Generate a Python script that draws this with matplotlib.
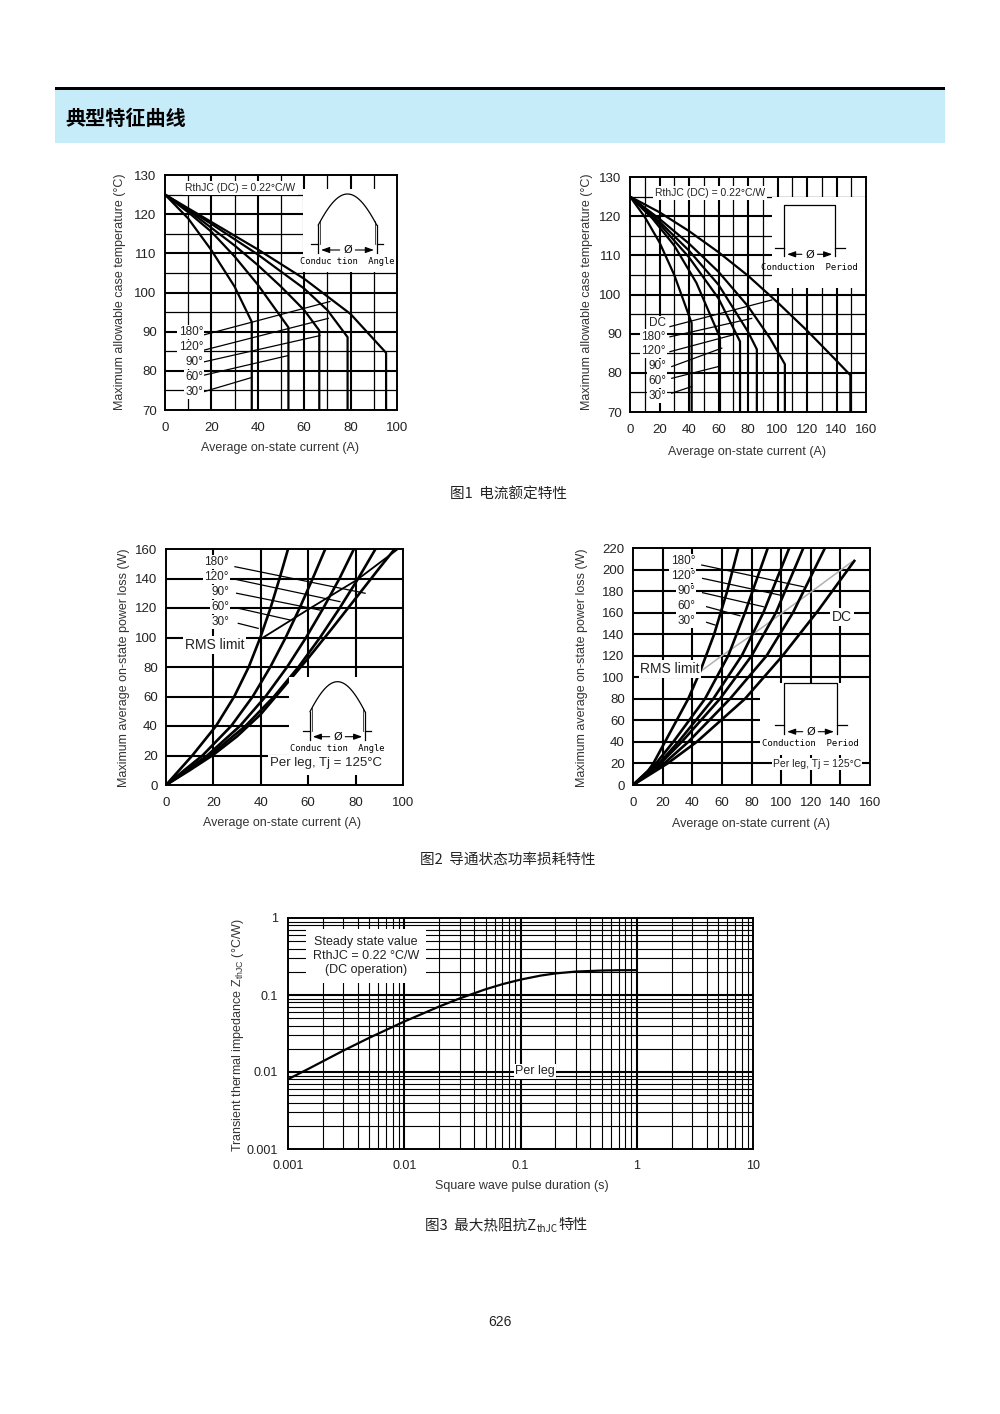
import numpy as np
import matplotlib
matplotlib.use('Agg')
import matplotlib.pyplot as plt
from matplotlib.patches import Rectangle

plt.rcParams['font.family'] = ['Liberation Sans', 'DejaVu Sans']
plt.rcParams['mathtext.fontset'] = 'custom'
plt.rcParams['mathtext.rm'] = 'Liberation Sans'
plt.rcParams['mathtext.default'] = 'regular'
CJK = ['Noto Sans CJK SC', 'DejaVu Sans']
MONO = ['DejaVu Sans Mono']

# ---------------- data ----------------
# Fig 1 (left): max case temperature vs average current, sine conduction angle
f1a_labels = ['30°', '60°', '90°', '120°', '180°']
f1a_current = [
    [0, 10, 20, 30, 37.4],
    [0, 10, 20, 30, 40, 53.2],
    [0, 10, 20, 30, 40, 50, 60, 66.5],
    [0, 20, 40, 60, 70, 78.7],
    [0, 20, 40, 60, 80, 95.3],
]
f1a_temp = [
    [125, 118.9, 110.8, 101.5, 92.5],
    [125, 120.5, 115.5, 109.2, 102.0, 91.1],
    [125, 121.0, 116.5, 112.0, 107.0, 101.5, 95.5, 90.3],
    [125, 117.5, 109.7, 101.0, 95.5, 88.6],
    [125, 118.0, 111.0, 103.5, 94.5, 84.6],
]
f1a_label_y = [74.6, 78.4, 82.3, 86.1, 89.9]
f1a_lead_x0 = [16.9, 16.9, 16.9, 16.9, 16.9]
f1a_lead_y0 = [74.7, 78.9, 82.3, 85.3, 89.2]
f1a_lead_x1 = [37.4, 53.1, 66.8, 70.4, 71.1]
f1a_lead_y1 = [78.3, 83.9, 89.0, 93.4, 97.7]

# Fig 1 (right): rectangular conduction period
f1b_labels = ['30°', '60°', '90°', '120°', '180°', 'DC']
f1b_current = [
    [0, 10, 20, 30, 41.8],
    [0, 15, 30, 45, 61],
    [0, 20, 40, 60, 74.6],
    [0, 20, 40, 60, 80, 86],
    [0, 20, 40, 60, 80, 95, 105],
    [0, 20, 40, 60, 80, 100, 120, 140, 149.4],
]
f1b_temp = [
    [125, 119.8, 113.3, 105.0, 92.7],
    [125, 119.5, 112.5, 103.0, 89.0],
    [125, 118.0, 109.5, 99.0, 88.0],
    [125, 118.6, 111.2, 102.5, 90.5, 86.0],
    [125, 119.3, 113.0, 105.8, 97.0, 88.8, 82.2],
    [125, 121.0, 116.2, 110.8, 104.8, 98.0, 90.8, 83.1, 79.4],
]
f1b_label_y = [74.1, 77.9, 81.7, 85.6, 89.2, 92.7]
f1b_lead_x0 = [28.3, 28.3, 28.3, 27.1, 27.1, 27.1]
f1b_lead_y0 = [74.8, 78.6, 81.6, 85.4, 89.2, 91.8]
f1b_lead_x1 = [41.8, 59.9, 62.2, 70.0, 82.5, 96.1]
f1b_lead_y1 = [76.5, 81.6, 86.3, 89.7, 93.9, 98.6]

# Fig 2 (left): power loss vs average current, sine conduction angle
f2a_labels = ['30°', '60°', '90°', '120°', '180°']
f2a_current = [
    [0, 11.1, 21.1, 28.8, 34.9, 39.8, 44.1, 47.9, 51.5],
    [0, 15.4, 27.5, 36.6, 44.0, 50.5, 56.4, 61.9, 67.2],
    [0, 17.4, 31.2, 42.0, 51.1, 59.1, 66.4, 73.2, 79.3],
    [0, 18.5, 33.5, 45.6, 55.9, 65.0, 73.3, 81.1, 88.4],
    [0, 10, 20, 30, 40, 50, 60, 70, 80, 90, 96.5],
]
f2a_power = [
    [0, 20, 40, 60, 80, 100, 120, 140, 160],
    [0, 20, 40, 60, 80, 100, 120, 140, 160],
    [0, 20, 40, 60, 80, 100, 120, 140, 160],
    [0, 20, 40, 60, 80, 100, 120, 140, 160],
    [0, 10, 20.5, 33, 48, 67, 86, 106, 126.5, 147, 160],
]
f2a_rms_i = [39.3, 53.0, 60.8, 80.5, 97.3]
f2a_rms_p = [98.3, 112.0, 119.8, 139.0, 159.3]
f2a_label_y = [110.5, 120.7, 130.8, 141.0, 151.2]
f2a_lead_x0 = [30.5, 30.5, 29.8, 29.1, 29.1]
f2a_lead_y0 = [109.6, 119.8, 130.0, 139.5, 148.0]
f2a_lead_x1 = [38.9, 52.3, 65.0, 73.4, 84.0]
f2a_lead_y1 = [106.2, 111.9, 118.6, 124.3, 130.0]

# Fig 2 (right): rectangular conduction period
f2b_labels = ['30°', '60°', '90°', '120°', '180°', 'DC']
f2b_current = [
    [0, 10, 13.7, 21.6, 37.3, 45.2, 54.8, 63.6, 71.1],
    [0, 15.5, 27.2, 48.6, 64.3, 75.6, 91.0],
    [0, 17.5, 30.6, 54.2, 73.4, 88.0, 105.5],
    [0, 18.5, 32.9, 58.7, 80.1, 96.5, 115.0],
    [0, 21.0, 37.3, 65.5, 90.2, 108.0, 129.6],
    [0, 23.3, 43.0, 75.6, 101.0, 125.0, 149.4],
]
f2b_power = [
    [0, 12.7, 20, 40, 80, 105, 140, 180, 220],
    [0, 20, 40, 80, 120, 160, 220],
    [0, 20, 40, 80, 120, 160, 220],
    [0, 20, 40, 80, 120, 160, 220],
    [0, 20, 40, 80, 120, 160, 220],
    [0, 20, 40, 80, 120, 162, 208],
]
f2b_rms_i = [45.2, 60, 80, 100, 120, 147.6]
f2b_rms_p = [105, 120, 139, 159, 179, 207]
f2b_label_y = [152.2, 166.0, 180.0, 194.0, 207.9]
f2b_lead_x0 = [49.7, 49.7, 47.0, 47.0, 46.4]
f2b_lead_y0 = [151.0, 165.5, 178.5, 191.8, 204.2]
f2b_lead_x1 = [55.4, 72.2, 88.0, 99.2, 115.0]
f2b_lead_y1 = [148.5, 157.1, 165.5, 176.3, 184.0]

# Fig 3: transient thermal impedance
f3_time = [0.00104, 0.0015, 0.002, 0.003, 0.005, 0.007, 0.01, 0.015, 0.02, 0.03,
           0.05, 0.07, 0.1, 0.15, 0.2, 0.3, 0.5, 0.7, 1.0]
f3_zth = [0.0083, 0.0110, 0.0138, 0.0190, 0.0278, 0.0352, 0.0452, 0.0588, 0.0709, 0.0903,
          0.1186, 0.1383, 0.1584, 0.179, 0.1906, 0.2016, 0.2078, 0.2096, 0.2101]
f3_xticks = [0.001, 0.01, 0.1, 1, 10]
f3_xticklabels = ['0.001', '0.01', '0.1', '1', '10']
f3_yticks = [0.001, 0.01, 0.1, 1]
f3_yticklabels = ['0.001', '0.01', '0.1', '1']

# ---------------- figure ----------------
W, H = 1000, 1414
fig = plt.figure(figsize=(W / 100, H / 100), dpi=100)
fig.patch.set_facecolor('white')

TXT = '#222222'
WB = dict(boxstyle='square,pad=0.12', fc='white', ec='none')


def mkax(l, r, t, b):
    return fig.add_axes([l / W, 1 - b / H, (r - l) / W, (b - t) / H])


def style(ax, xt, yt, fs=9.5):
    ax.set_xticks(xt)
    ax.set_yticks(yt)
    ax.tick_params(length=0, labelsize=fs, labelcolor=TXT)
    ax.tick_params(axis='y', pad=6)
    ax.tick_params(axis='x', pad=8.5)
    for s in ax.spines.values():
        s.set_linewidth(1.4)
        s.set_color('black')
        s.set_zorder(6)


def lingrid(ax, xs, ys, xmaj, ymaj):
    for x in xs:
        ax.axvline(x, color='black', lw=1.5 if x % xmaj == 0 else 0.9, zorder=1)
    for y in ys:
        ax.axhline(y, color='black', lw=1.5 if y % ymaj == 0 else 0.9, zorder=1)


# ---- Chart 1a ----
ax1 = mkax(165, 397, 175, 410)
ax1.set_xlim(0, 100)
ax1.set_ylim(70, 130)
style(ax1, range(0, 101, 20), range(70, 131, 10))
lingrid(ax1, range(10, 100, 10), range(75, 130, 5), 20, 10)
ax1.add_patch(Rectangle((59.5, 105.2), 40.5, 21.3, fc='white', ec='none', zorder=2))
for I, T in zip(f1a_current, f1a_temp):
    ax1.plot(I + [I[-1]], T + [70], color='black', lw=1.6, zorder=3)
for lab, ly, x0, y0, x1, y1 in zip(f1a_labels, f1a_label_y, f1a_lead_x0, f1a_lead_y0, f1a_lead_x1, f1a_lead_y1):
    ax1.plot([x0, x1], [y0, y1], color='black', lw=0.9, zorder=3)
    ax1.text(16.4, ly, lab, ha='right', va='center', fontsize=8.5, color=TXT, bbox=WB, zorder=4)
ax1.text(32.5, 126.7, 'RthJC (DC) = 0.22°C/W', ha='center', va='center', fontsize=7.5,
         color=TXT, bbox=dict(boxstyle='square,pad=0.2', fc='white', ec='none'), zorder=4)

# ---- Chart 1b ----
ax2 = mkax(630, 866, 177, 412)
ax2.set_xlim(0, 160)
ax2.set_ylim(70, 130)
style(ax2, range(0, 161, 20), range(70, 131, 10))
lingrid(ax2, range(10, 160, 10), range(75, 130, 5), 20, 10)
ax2.add_patch(Rectangle((96, 101.6), 64, 23.4, fc='white', ec='none', zorder=2))
for I, T in zip(f1b_current, f1b_temp):
    ax2.plot(I + [I[-1]], T + [70], color='black', lw=1.6, zorder=3)
for lab, ly, x0, y0, x1, y1 in zip(f1b_labels, f1b_label_y, f1b_lead_x0, f1b_lead_y0, f1b_lead_x1, f1b_lead_y1):
    ax2.plot([x0, x1], [y0, y1], color='black', lw=0.9, zorder=3)
    ax2.text(24.4, ly, lab, ha='right', va='center', fontsize=8.5, color=TXT, bbox=WB, zorder=4)
ax2.text(54.2, 125.9, 'RthJC (DC) = 0.22°C/W', ha='center', va='center', fontsize=7.5,
         color=TXT, bbox=dict(boxstyle='square,pad=0.2', fc='white', ec='none'), zorder=4)

# ---- Chart 2a ----
ax3 = mkax(166, 403, 549, 785)
ax3.set_xlim(0, 100)
ax3.set_ylim(0, 160)
style(ax3, range(0, 101, 20), range(0, 161, 20))
lingrid(ax3, range(20, 100, 20), range(20, 160, 20), 20, 20)
for I, P in zip(f2a_current, f2a_power):
    ax3.plot(I, P, color='black', lw=1.9, zorder=3)
ax3.plot(f2a_rms_i, f2a_rms_p, color='black', lw=1.3, zorder=3)
ax3.add_patch(Rectangle((52, 7), 48, 66, fc='white', ec='none', zorder=3.5))
for lab, ly, x0, y0, x1, y1 in zip(f2a_labels, f2a_label_y, f2a_lead_x0, f2a_lead_y0, f2a_lead_x1, f2a_lead_y1):
    ax3.plot([x0, x1], [y0, y1], color='black', lw=0.9, zorder=3)
    ax3.text(26.6, ly, lab, ha='right', va='center', fontsize=8.5, color=TXT, bbox=WB, zorder=4)
ax3.text(20.5, 94.9, 'RMS limit', ha='center', va='center', fontsize=10, color=TXT, bbox=WB, zorder=4)
ax3.text(67.5, 14.9, 'Per leg, Tj = 125°C', ha='center', va='center', fontsize=9.5, color=TXT, bbox=WB, zorder=4)

# ---- Chart 2b ----
ax4 = mkax(633, 870, 548, 785)
ax4.set_xlim(0, 160)
ax4.set_ylim(0, 220)
style(ax4, range(0, 161, 20), range(0, 221, 20))
lingrid(ax4, range(20, 160, 20), range(20, 220, 20), 20, 20)
ax4.add_patch(Rectangle((86, 28), 74, 67, fc='white', ec='none', zorder=2))
ax4.plot(f2b_rms_i, f2b_rms_p, color='#b0b0b0', lw=1.1, zorder=2.5)
for I, P in zip(f2b_current, f2b_power):
    ax4.plot(I, P, color='black', lw=1.9, zorder=3)
for lab, ly, x0, y0, x1, y1 in zip(f2b_labels, f2b_label_y, f2b_lead_x0, f2b_lead_y0, f2b_lead_x1, f2b_lead_y1):
    ax4.plot([x0, x1], [y0, y1], color='black', lw=0.9, zorder=3)
    ax4.text(41.9, ly, lab, ha='right', va='center', fontsize=8.5, color=TXT, bbox=WB, zorder=4)
ax4.text(25, 107.6, 'RMS limit', ha='center', va='center', fontsize=10, color=TXT, bbox=WB, zorder=4)
ax4.text(141, 155.9, 'DC', ha='center', va='center', fontsize=10, color=TXT, bbox=WB, zorder=4)
ax4.text(124.2, 19.5, 'Per leg, Tj = 125°C', ha='center', va='center', fontsize=7.5, color=TXT, bbox=WB, zorder=4)

# ---- Chart 3 ----
ax5 = mkax(288, 753, 918, 1149)
ax5.set_xscale('log')
ax5.set_yscale('log')
ax5.set_xlim(0.001, 10)
ax5.set_ylim(0.001, 1)
ax5.set_xticks(f3_xticks)
ax5.set_xticklabels(f3_xticklabels)
ax5.set_yticks(f3_yticks)
ax5.set_yticklabels(f3_yticklabels)
ax5.minorticks_off()
ax5.tick_params(length=0, pad=7, labelsize=9, labelcolor=TXT)
ax5.tick_params(axis='x', pad=8)
for s in ax5.spines.values():
    s.set_linewidth(1.4)
    s.set_zorder(6)
for d in [0.001, 0.01, 0.1, 1]:
    for k in range(1, 10):
        v = d * k
        if 0.001 < v < 10:
            ax5.axvline(v, color='black', lw=1.5 if k == 1 else 0.8, zorder=1)
for d in [0.001, 0.01, 0.1]:
    for k in range(1, 10):
        v = d * k
        if 0.001 < v < 1:
            ax5.axhline(v, color='black', lw=1.5 if k == 1 else 0.8, zorder=1)
ax5.plot(f3_time, f3_zth, color='black', lw=1.6, zorder=3)
ax5.text(0.00469, 0.321, 'Steady state value\nRthJC = 0.22 °C/W\n(DC operation)', ha='center', va='center',
         fontsize=9, color=TXT, linespacing=1.25,
         bbox=dict(boxstyle='square,pad=0.55', fc='white', ec='none'), zorder=4)
ax5.text(0.133, 0.0103, 'Per leg', ha='center', va='center', fontsize=9, color=TXT, bbox=WB, zorder=4)

# ---------------- overlay (page decorations) ----------------
ov = fig.add_axes([0, 0, 1, 1], zorder=20)
ov.set_xlim(0, W)
ov.set_ylim(H, 0)
ov.axis('off')

ov.add_patch(Rectangle((55, 90), 890, 53, fc='#c7ecf9', ec='none'))
ov.add_patch(Rectangle((55, 86.5), 890, 3.5, fc='black', ec='none'))
ov.text(65, 118, '典型特征曲线', ha='left', va='center', fontsize=14.5, fontweight='bold',
        family=CJK, color='black')

# axis labels
LAB = dict(fontsize=9, color='#333333', ha='center', va='center')
ov.text(120, 292, 'Maximum allowable case temperature (°C)', rotation=90, **LAB)
ov.text(280, 448, 'Average on-state current (A)', **LAB)
ov.text(587, 292, 'Maximum allowable case temperature (°C)', rotation=90, **LAB)
ov.text(747, 452, 'Average on-state current (A)', **LAB)
ov.text(124, 668, 'Maximum average on-state power loss (W)', rotation=90, **LAB)
ov.text(282, 823, 'Average on-state current (A)', **LAB)
ov.text(582, 668, 'Maximum average on-state power loss (W)', rotation=90, **LAB)
ov.text(751, 824, 'Average on-state current (A)', **LAB)
ov.text(238, 1035, 'Transient thermal impedance Z$_{thJC}$ (°C/W)', rotation=90, **LAB)
ov.text(522, 1186, 'Square wave pulse duration (s)', **LAB)

# captions
CAP = dict(fontsize=10.5, color='#222222', va='center', family=CJK)
ov.text(508, 495, '图1  电流额定特性', ha='center', **CAP)
ov.text(508, 860, '图2  导通状态功率损耗特性', ha='center', **CAP)
r = fig.canvas.get_renderer()
t1 = ov.text(425, 1225, '图3  最大热阻抗Z', ha='left', **CAP)
bb = t1.get_window_extent(renderer=r)
t2 = ov.text(bb.x1 + 0.5, 1229, 'thJC', ha='left', va='center', fontsize=7, color='#222222', family=CJK)
bb2 = t2.get_window_extent(renderer=r)
ov.text(bb2.x1 + 0.5, 1225, '特性', ha='left', **CAP)
ov.text(500, 1322, '626', ha='center', va='center', fontsize=10, color='#222222')


# inset schematics
def angle_inset(x0, x1, base, peak_h, cut_h, arrow_y, text_y):
    k = dict(color='black', lw=0.9)
    phi0 = np.arcsin(cut_h / peak_h)
    ph = np.linspace(phi0, np.pi - phi0, 60)
    xs = x0 + (ph - phi0) / (np.pi - 2 * phi0) * (x1 - x0)
    ys = base - peak_h * np.sin(ph)
    ov.plot(xs, ys, **k)
    ov.plot([x0 - 7, x0], [base, base], **k)
    ov.plot([x1, x1 + 6], [base, base], **k)
    ov.plot([x0, x0], [ys[0], arrow_y + 3], **k)
    ov.plot([x1, x1], [ys[-1], arrow_y + 3], **k)
    ov.plot([x0 + 2, x0 + 2], [ys[0] - 4, base], color='black', lw=0.5)
    ov.plot([x1 - 2, x1 - 2], [ys[-1] - 4, base], color='black', lw=0.5)
    xm = (x0 + x1) / 2
    ov.annotate('', xy=(x0, arrow_y), xytext=(xm - 5, arrow_y),
                arrowprops=dict(arrowstyle='-|>,head_length=0.5,head_width=0.18', lw=0.8, color='black'))
    ov.annotate('', xy=(x1, arrow_y), xytext=(xm + 5, arrow_y),
                arrowprops=dict(arrowstyle='-|>,head_length=0.5,head_width=0.18', lw=0.8, color='black'))
    ov.text(xm, arrow_y, 'Ø', ha='center', va='center', fontsize=8, color='black', family=['DejaVu Sans'])
    ov.text(xm, text_y, 'Conduc tion  Angle', ha='center', va='center', fontsize=6.3, color='black', family=MONO)


def period_inset(x0, x1, top, base, arrow_y, text_y):
    k = dict(color='black', lw=0.9)
    ov.plot([x0 - 9, x0], [base, base], **k)
    ov.plot([x1, x1 + 10], [base, base], **k)
    ov.plot([x0, x0, x1, x1], [arrow_y + 2, top, top, arrow_y + 2], **k)
    xm = (x0 + x1) / 2
    ov.annotate('', xy=(x0, arrow_y), xytext=(xm - 5, arrow_y),
                arrowprops=dict(arrowstyle='-|>,head_length=0.5,head_width=0.18', lw=0.8, color='black'))
    ov.annotate('', xy=(x1, arrow_y), xytext=(xm + 5, arrow_y),
                arrowprops=dict(arrowstyle='-|>,head_length=0.5,head_width=0.18', lw=0.8, color='black'))
    ov.text(xm, arrow_y, 'Ø', ha='center', va='center', fontsize=8, color='black', family=['DejaVu Sans'])
    ov.text(xm, text_y, 'Conduction  Period', ha='center', va='center', fontsize=6.5, color='black', family=MONO)


angle_inset(318.3, 376.7, 244, 50, 19, 250, 261.7)
angle_inset(310, 365, 730.7, 49, 19, 736.7, 748.3)
period_inset(784.3, 835, 205, 247.7, 254.3, 267.7)
period_inset(784.3, 836.7, 682.7, 725, 731.7, 744)

fig.savefig('out.png', dpi=100, facecolor='white')
